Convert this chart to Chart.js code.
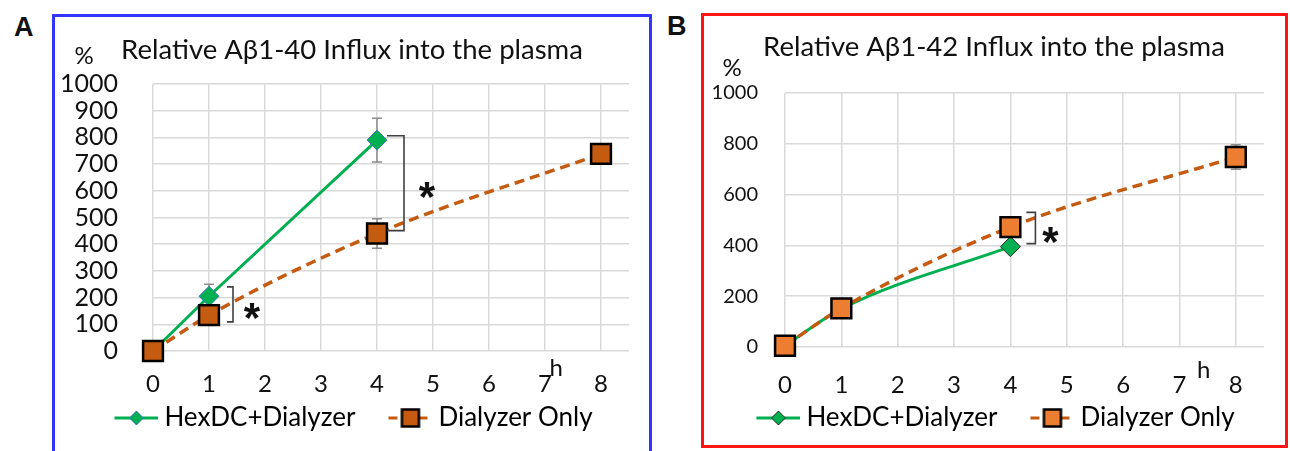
<!DOCTYPE html>
<html>
<head>
<meta charset="utf-8">
<script src="https://cdn.jsdelivr.net/npm/chart.js"></script>
<style>
  body { margin: 0; width: 1290px; height: 451px; overflow: hidden; background: #fff; position: relative; }
  .panel { position: absolute; box-sizing: border-box; border: 3px solid; }
  #pa { left: 52px; top: 14px; width: 600px; height: 445px; border-color: #3434ff; }
  #pb { left: 701px; top: 13px; width: 587px; height: 435px; border-color: #ff1414; }
  .tag { position: absolute; font: bold 27px "Liberation Sans", Arial, sans-serif; color: #111; }
  canvas { display: block; }
</style>
</head>
<body>
<div class="tag" style="left:14px;top:12px">A</div>
<div class="tag" style="left:667px;top:11px">B</div>
<div class="panel" id="pa"><canvas id="chartA" width="594" height="439"></canvas></div>
<div class="panel" id="pb"><canvas id="chartB" width="581" height="429"></canvas></div>
<script>
// ---- data ----
const hours = [0, 1, 4, 8];
const hexHours = [0, 1, 4];
const xTicks = [0, 1, 2, 3, 4, 5, 6, 7, 8];
const seriesNames = ['HexDC+Dialyzer', 'Dialyzer Only'];

const titleA = 'Relative A\u03b21-40 Influx into the plasma';
const hexA = [0, 205, 790];
const hexAErr = [0, 45, 82];
const dialA = [0, 134, 440, 738];
const dialAErr = [0, 0, 55, 0];
const yTicksA = [0, 100, 200, 300, 400, 500, 600, 700, 800, 900, 1000];

const titleB = 'Relative A\u03b21-42 Influx into the plasma';
const hexB = [5, 150, 395];
const hexBErr = [0, 0, 0];
const dialB = [5, 152, 472, 748];
const dialBErr = [0, 0, 0, 48];
const yTicksB = [0, 200, 400, 600, 800, 1000];

// significance brackets: hour, lower end, upper end (values)
const sigA = [[1, 109, 240], [4, 451, 806]];
const sigB = [[4, 407, 530]];

Chart.defaults.font.family = 'Lato, "Open Sans", sans-serif';
Chart.defaults.color = '#111';

const GREEN = '#00b050';
const ORANGE_LINE = '#c55a11';

// legend icon: line with marker in the middle, transparent margin on the left
function legendIcon(color, dash, marker, fill, stroke, strokeW, size) {
  const c = document.createElement('canvas');
  c.width = 74; c.height = 30;
  const g = c.getContext('2d');
  g.strokeStyle = color; g.lineWidth = 3; g.setLineDash(dash);
  g.beginPath(); g.moveTo(30, 15); g.lineTo(74, 15); g.stroke();
  g.setLineDash([]);
  const cx = 52, cy = 15;
  g.beginPath();
  if (marker === 'diamond') {
    g.moveTo(cx, cy - size); g.lineTo(cx + size, cy); g.lineTo(cx, cy + size); g.lineTo(cx - size, cy);
  } else {
    g.rect(cx - size, cy - size, size * 2, size * 2);
  }
  g.closePath();
  g.fillStyle = fill; g.fill();
  g.lineWidth = strokeW; g.strokeStyle = stroke; g.stroke();
  return c;
}

const extras = {
  id: 'extras',
  afterLayout(chart, args, o) {
    // centre the title over the whole panel, not just left of the right padding
    chart.titleBlock.left += o.titleShift;
    chart.titleBlock.right += o.titleShift;
  },
  beforeDatasetsDraw(chart, args, o) {
    const ctx = chart.ctx, y = chart.scales.y;
    ctx.save();
    ctx.strokeStyle = '#8c8c8c'; ctx.lineWidth = 1.5;
    o.errors.forEach((errs, i) => {
      const meta = chart.getDatasetMeta(i);
      const vals = chart.data.datasets[i].data;
      errs.forEach((e, j) => {
        if (!e) return;
        const px = meta.data[j].x;
        const t = y.getPixelForValue(vals[j].y + e), b = y.getPixelForValue(vals[j].y - e);
        ctx.beginPath();
        ctx.moveTo(px, t); ctx.lineTo(px, b);
        ctx.moveTo(px - 5, t); ctx.lineTo(px + 5, t);
        ctx.moveTo(px - 5, b); ctx.lineTo(px + 5, b);
        ctx.stroke();
      });
    });
    ctx.restore();
  },
  afterDatasetsDraw(chart, args, o) {
    const ctx = chart.ctx, x = chart.scales.x, y = chart.scales.y, a = chart.chartArea;
    ctx.save();
    o.brackets.forEach((s, k) => {
      const bx = x.getPixelForValue(s[0]) + o.bOff[k];
      const lo = y.getPixelForValue(s[1]), hi = y.getPixelForValue(s[2]);
      ctx.strokeStyle = '#404040'; ctx.lineWidth = 1.6;
      ctx.beginPath();
      ctx.moveTo(bx - o.bTick[k], hi); ctx.lineTo(bx, hi); ctx.lineTo(bx, lo); ctx.lineTo(bx - o.bTick[k], lo);
      ctx.stroke();
      ctx.fillStyle = '#111';
      ctx.font = 'bold 42px "Liberation Sans", Arial, sans-serif';
      ctx.textAlign = 'center'; ctx.textBaseline = 'alphabetic';
      ctx.fillText('*', bx + o.starDx[k], (lo + hi) / 2 + 4 + 24);
    });
    ctx.fillStyle = '#111';
    ctx.font = '24px Lato, sans-serif';
    ctx.textAlign = 'center'; ctx.textBaseline = 'middle';
    ctx.fillText('%', a.left + o.pct[0], a.top + o.pct[1]);
    ctx.fillText('h', x.getPixelForValue(o.hPos[0]), a.bottom + o.hPos[1]);
    ctx.restore();
  }
};

function buildPanel(id, p) {
  const xs = {
    type: 'linear', min: 0, max: 8.5,
    afterBuildTicks: ax => { ax.ticks = xTicks.map(v => ({ value: v })); },
    afterFit: ax => { ax.height = p.xH; },
    grid: { color: '#d9d9d9', lineWidth: 1.5, drawTicks: false },
    border: { display: false },
    ticks: { padding: p.xPad, autoSkip: false, maxRotation: 0, font: { size: 24 }, color: '#111', callback: v => String(v) }
  };
  const ys = {
    min: 0, max: 1000,
    afterBuildTicks: ax => { ax.ticks = p.yTicks.map(v => ({ value: v })); },
    afterFit: ax => { ax.width = p.yW; },
    grid: { color: '#d9d9d9', lineWidth: 1.5, drawTicks: false },
    border: { display: false },
    ticks: { padding: p.yPad, autoSkip: false, font: { size: p.yFont }, color: '#111', callback: v => String(v) }
  };
  const icons = [
    legendIcon(GREEN, [], 'diamond', GREEN, p.diamondEdge, 1, 7),
    legendIcon(ORANGE_LINE, [9, 6], 'square', p.squareFill, '#000', 2.5, 8.5)
  ];
  return new Chart(document.getElementById(id), {
    type: 'line',
    data: {
      datasets: [
        {
          label: seriesNames[0],
          data: hexHours.map((h, i) => ({ x: h, y: p.hex[i] })),
          borderColor: GREEN, borderWidth: 3,
          tension: 0, cubicInterpolationMode: p.hexSmooth ? 'monotone' : 'default',
          pointStyle: 'rectRot', pointRadius: 10,
          pointBackgroundColor: GREEN, pointBorderColor: p.diamondEdge, pointBorderWidth: 1,
          order: 1, clip: false
        },
        {
          label: seriesNames[1],
          data: hours.map((h, i) => ({ x: h, y: p.dial[i] })),
          borderColor: ORANGE_LINE, borderWidth: 3.5, borderDash: [10, 6],
          cubicInterpolationMode: 'monotone',
          pointStyle: 'rect', pointRadius: 14,
          pointBackgroundColor: p.squareFill, pointBorderColor: '#000', pointBorderWidth: 2.5,
          order: 0, clip: false
        }
      ]
    },
    options: {
      responsive: false, animation: false,
      layout: { padding: p.pad },
      scales: { x: xs, y: ys },
      plugins: {
        tooltip: { enabled: false },
        title: {
          display: true, text: p.title, color: '#111',
          font: { size: 27.5, weight: 'normal' }, padding: p.titlePad
        },
        legend: {
          position: 'bottom',
          labels: {
            usePointStyle: true, pointStyleWidth: 60, padding: 10,
            font: { size: 26 }, color: '#111',
            generateLabels: () => seriesNames.map((n, i) => ({
              text: n, pointStyle: icons[i], datasetIndex: i,
              fillStyle: 'transparent', strokeStyle: 'transparent', lineWidth: 0, hidden: false
            }))
          }
        },
        extras: {
          errors: p.errors, brackets: p.sig, bOff: p.bOff, bTick: p.bTick, starDx: p.starDx,
          pct: p.pct, hPos: p.hPos, titleShift: p.titleShift
        }
      }
    },
    plugins: [extras]
  });
}

buildPanel('chartA', {
  title: titleA, hex: hexA, dial: dialA, errors: [hexAErr, dialAErr], yTicks: yTicksA,
  sig: sigA, bOff: [24, 27], bTick: [6, 17], starDx: [19, 23],
  yW: 98, yPad: 35, yFont: 25, xH: 44, xPad: 19,
  pad: { top: 0, right: 20, bottom: 15, left: 0 },
  titlePad: { top: 17, bottom: 17 }, titleShift: 10,
  pct: [-69, -28], hPos: [7.2, 17],
  diamondEdge: '#4472c4', squareFill: '#c55a11', hexSmooth: false
});

buildPanel('chartB', {
  title: titleB, hex: hexB, dial: dialB, errors: [hexBErr, dialBErr], yTicks: yTicksB,
  sig: sigB, bOff: [25], bTick: [9], starDx: [15],
  yW: 81, yPad: 27, yFont: 20, xH: 48, xPad: 24,
  pad: { top: 0, right: 21, bottom: 4, left: 0 },
  titlePad: { top: 15, bottom: 29 }, titleShift: 10,
  pct: [-53, -25], hPos: [7.43, 23],
  diamondEdge: '#2b2b2b', squareFill: '#ed7d31', hexSmooth: true
});
</script>
</body>
</html>
